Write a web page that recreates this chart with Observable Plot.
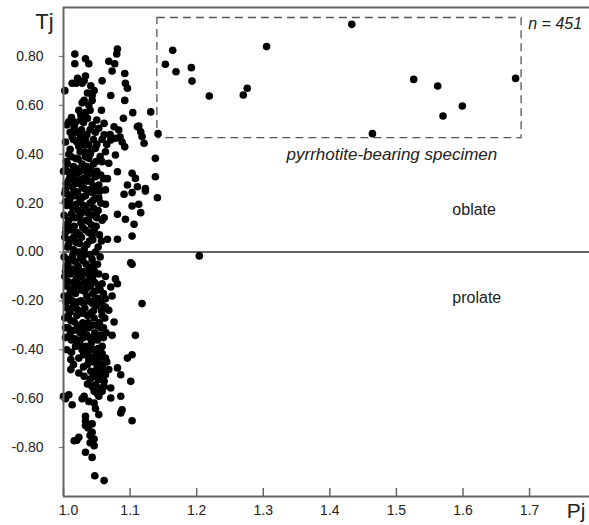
<!DOCTYPE html>
<html>
<head>
<meta charset="utf-8">
<script src="https://cdn.jsdelivr.net/npm/d3@7"></script>
<script src="https://cdn.jsdelivr.net/npm/@observablehq/plot@0.6"></script>
<style>
  html, body { margin: 0; padding: 0; background: #fff; }
  #chart { width: 589px; height: 525px; }
</style>
</head>
<body>
<div id="chart"></div>
<script>
// Pj (x) / Tj (y) values (dense cluster)
const clusterPoints = [
  // Tj 0.56 – 0.83
  [1.017,0.81],[1.017,0.77],[1.033,0.79],[1.038,0.77],[1.081,0.83],[1.080,0.81],[1.068,0.78],[1.077,0.77],
  [1.073,0.74],[1.092,0.73],[1.093,0.69],[1.096,0.67],[1.002,0.66],[1.013,0.69],[1.021,0.71],[1.033,0.72],
  [1.028,0.69],[1.041,0.68],[1.058,0.70],[1.036,0.65],[1.043,0.62],[1.028,0.61],[1.038,0.60],[1.023,0.58],
  [1.033,0.57],[1.071,0.64],[1.092,0.62],[1.057,0.58],[1.104,0.57],[1.026,0.56],[1.024,0.70],[1.031,0.70],
  [1.019,0.69],[1.046,0.66],[1.043,0.64],[1.031,0.62],[1.040,0.58],
  // Tj 0.25 – 0.55
  [1.008,0.533],[1.016,0.512],[1.026,0.54],[1.036,0.547],[1.043,0.519],[1.053,0.506],[1.061,0.526],[1.076,0.512],
  [1.083,0.499],[1.090,0.547],[1.111,0.512],[1.116,0.492],[1.118,0.472],[1.121,0.445],[1.026,0.472],[1.033,0.458],
  [1.023,0.431],[1.038,0.438],[1.041,0.41],[1.033,0.39],[1.061,0.479],[1.071,0.458],[1.078,0.465],[1.063,0.41],
  [1.078,0.397],[1.058,0.369],[1.068,0.363],[1.011,0.39],[1.018,0.383],[1.038,0.383],[1.048,0.424],[1.003,0.335],
  [1.013,0.328],[1.021,0.322],[1.031,0.335],[1.036,0.315],[1.023,0.294],[1.008,0.294],[1.013,0.267],[1.028,0.267],
  [1.041,0.288],[1.048,0.308],[1.053,0.274],[1.081,0.328],[1.103,0.322],[1.108,0.301],[1.096,0.274],[1.111,0.267],
  [1.123,0.26],[1.063,0.254],[1.038,0.254],[1.003,0.254],[1.000,0.33],[1.005,0.33],
  [1.012,0.55],[1.018,0.53],[1.005,0.52],[1.020,0.49],[1.027,0.50],[1.015,0.46],[1.030,0.44],[1.045,0.46],
  [1.025,0.41],[1.050,0.44],[1.055,0.39],[1.045,0.36],[1.028,0.36],[1.015,0.35],[1.040,0.34],[1.050,0.33],
  [1.060,0.30],[1.030,0.30],[1.018,0.28],[1.045,0.27],[1.010,0.31],[1.055,0.25],[1.070,0.48],[1.065,0.44],
  [1.085,0.47],[1.088,0.45],[1.092,0.43],[1.113,0.515],[1.138,0.308],[1.066,0.30],
  [1.004,0.28],[1.014,0.30],[1.025,0.28],[1.035,0.29],[1.044,0.32],[1.056,0.315],[1.020,0.34],[1.035,0.35],
  [1.049,0.37],[1.006,0.36],[1.022,0.38],[1.040,0.40],[1.010,0.42],[1.020,0.45],[1.035,0.48],[1.048,0.49],
  [1.058,0.46],[1.010,0.49],[1.040,0.50],[1.030,0.53],[1.050,0.54],
  [1.003,0.45],[1.013,0.47],[1.024,0.46],[1.008,0.40],[1.032,0.41],[1.004,0.37],[1.026,0.33],[1.016,0.25],
  [1.031,0.26],[1.047,0.25],
  // Tj -0.08 – 0.25
  [1.091,0.236],[1.103,0.243],[1.123,0.249],[1.141,0.222],[1.103,0.188],[1.113,0.195],[1.116,0.161],[1.081,0.154],
  [1.093,0.134],[1.061,0.14],[1.106,0.113],[1.103,0.065],[1.081,0.052],[1.066,0.052],[1.101,-0.044],[1.103,-0.05],
  [1.063,0.195],[1.053,0.222],[1.043,0.243],
  [1.002,0.24],[1.010,0.22],[1.018,0.23],[1.025,0.21],[1.033,0.23],[1.040,0.20],[1.048,0.22],
  [1.005,0.19],[1.014,0.18],[1.022,0.17],[1.030,0.19],[1.037,0.16],[1.045,0.18],[1.052,0.17],
  [1.001,0.15],[1.008,0.13],[1.017,0.14],[1.026,0.12],[1.034,0.13],[1.042,0.11],[1.050,0.14],
  [1.004,0.10],[1.012,0.09],[1.020,0.08],[1.029,0.10],[1.038,0.08],[1.046,0.09],[1.054,0.07],
  [1.002,0.06],[1.010,0.05],[1.019,0.04],[1.027,0.06],[1.035,0.03],[1.044,0.05],[1.052,0.02],
  [1.006,0.02],[1.015,0.01],[1.023,0.00],[1.031,0.01],[1.040,-0.01],[1.048,0.00],
  [1.001,-0.02],[1.009,-0.03],[1.018,-0.04],[1.026,-0.02],[1.034,-0.05],[1.043,-0.03],[1.051,-0.05],
  [1.004,-0.06],[1.013,-0.07],[1.022,-0.06],[1.030,-0.08],[1.039,-0.07],[1.047,-0.08],
  [1.007,0.235],[1.021,0.245],[1.029,0.225],[1.044,0.21],[1.056,0.20],[1.003,0.205],[1.019,0.195],[1.034,0.175],
  [1.049,0.155],[1.058,0.13],[1.012,0.155],[1.024,0.145],[1.038,0.125],[1.006,0.115],[1.016,0.105],[1.033,0.09],
  [1.049,0.105],[1.057,0.045],[1.024,0.035],[1.039,0.045],[1.008,0.035],[1.014,-0.015],[1.029,-0.035],[1.045,-0.055],
  [1.055,-0.02],[1.007,-0.045],[1.021,-0.085],[1.036,-0.09],
  [1.009,0.20],[1.027,0.16],[1.041,0.15],[1.003,0.08],[1.024,0.07],[1.043,0.07],[1.015,0.06],[1.032,-0.01],
  [1.017,-0.08],[1.003,-0.08],
  // Tj -0.37 – -0.08
  [1.063,-0.10],[1.078,-0.11],[1.081,-0.13],[1.071,-0.143],[1.053,-0.136],[1.118,-0.211],[1.108,-0.341],[1.076,-0.286],
  [1.073,-0.341],[1.063,-0.191],[1.068,-0.238],[1.073,-0.18],
  [1.002,-0.10],[1.010,-0.09],[1.019,-0.11],[1.027,-0.10],[1.036,-0.12],[1.044,-0.10],[1.053,-0.09],
  [1.005,-0.14],[1.014,-0.15],[1.023,-0.13],[1.031,-0.16],[1.040,-0.14],[1.048,-0.16],
  [1.001,-0.18],[1.009,-0.19],[1.018,-0.17],[1.026,-0.20],[1.035,-0.18],[1.043,-0.21],[1.052,-0.19],[1.060,-0.17],
  [1.006,-0.23],[1.015,-0.22],[1.023,-0.24],[1.032,-0.23],[1.041,-0.25],[1.049,-0.22],[1.057,-0.24],
  [1.002,-0.27],[1.011,-0.28],[1.020,-0.26],[1.029,-0.29],[1.046,-0.27],[1.054,-0.29],[1.062,-0.27],
  [1.007,-0.31],[1.016,-0.32],[1.025,-0.33],[1.038,-0.31],[1.047,-0.33],[1.056,-0.31],[1.064,-0.33],
  [1.003,-0.35],[1.012,-0.36],[1.021,-0.37],[1.030,-0.35],[1.042,-0.37],[1.051,-0.36],[1.060,-0.35],
  [1.006,-0.12],[1.015,-0.125],[1.031,-0.125],[1.047,-0.125],[1.058,-0.13],[1.010,-0.165],[1.027,-0.155],[1.044,-0.17],
  [1.055,-0.155],[1.004,-0.205],[1.021,-0.205],[1.038,-0.20],[1.057,-0.21],[1.010,-0.245],[1.028,-0.25],[1.045,-0.24],
  [1.063,-0.225],[1.016,-0.285],[1.037,-0.29],[1.058,-0.26],[1.003,-0.31],[1.021,-0.30],[1.031,-0.315],[1.043,-0.30],
  [1.060,-0.31],[1.010,-0.335],[1.035,-0.34],[1.056,-0.34],[1.017,-0.355],[1.047,-0.355],
  [1.040,-0.11],[1.020,-0.14],[1.034,-0.15],[1.013,-0.20],[1.030,-0.21],[1.048,-0.19],[1.019,-0.23],[1.036,-0.26],
  [1.007,-0.26],[1.026,-0.31],[1.050,-0.30],[1.039,-0.35],[1.025,-0.36],
  // Tj -0.69 – -0.37
  [1.018,-0.386],[1.033,-0.386],[1.058,-0.386],[1.011,-0.44],[1.023,-0.434],[1.036,-0.413],[1.038,-0.44],[1.053,-0.44],
  [1.063,-0.434],[1.096,-0.434],[1.103,-0.42],[1.011,-0.481],[1.023,-0.495],[1.031,-0.508],[1.041,-0.488],[1.051,-0.467],
  [1.058,-0.461],[1.068,-0.481],[1.081,-0.474],[1.086,-0.502],[1.101,-0.529],[1.063,-0.502],[1.053,-0.522],[1.061,-0.529],
  [1.048,-0.543],[1.056,-0.556],[1.071,-0.556],[1.046,-0.57],[1.053,-0.59],[1.008,-0.584],[1.013,-0.625],[1.031,-0.59],
  [1.038,-0.611],[1.046,-0.618],[1.071,-0.597],[1.086,-0.59],[1.088,-0.645],[1.086,-0.658],[1.033,-0.672],[1.053,-0.665],
  [1.103,-0.69],
  [1.005,-0.40],[1.012,-0.41],[1.028,-0.40],[1.045,-0.40],[1.050,-0.42],[1.015,-0.46],[1.045,-0.45],[1.030,-0.47],
  [1.060,-0.48],[1.040,-0.52],[1.050,-0.50],[1.065,-0.45],[1.043,-0.55],[1.058,-0.57],[1.000,-0.59],[1.003,-0.60],
  [1.028,-0.60],[1.048,-0.64],
  [1.024,-0.38],[1.041,-0.39],[1.052,-0.395],[1.030,-0.42],[1.058,-0.415],[1.044,-0.43],[1.036,-0.46],[1.050,-0.48],
  [1.045,-0.51],[1.056,-0.50],[1.061,-0.55],[1.036,-0.54],[1.051,-0.58],
  // Tj below -0.69
  [1.033,-0.69],[1.033,-0.71],[1.043,-0.703],[1.043,-0.737],[1.046,-0.765],[1.046,-0.792],[1.016,-0.772],[1.023,-0.758],
  [1.033,-0.819],[1.043,-0.84],[1.047,-0.915],[1.061,-0.935],
  [1.037,-0.72],[1.040,-0.75],[1.020,-0.77],[1.040,-0.78]
];

// isolated specimens (incl. pyrrhotite-bearing group)
const outlierPoints = [
  [1.153,0.768],[1.164,0.825],[1.169,0.737],[1.192,0.754],[1.193,0.699],[1.219,0.638],[1.270,0.642],[1.276,0.670],
  [1.305,0.840],[1.433,0.931],[1.464,0.484],[1.526,0.706],[1.562,0.679],[1.570,0.556],[1.599,0.597],[1.679,0.710],
  [1.142,0.484],[1.131,0.573],[1.138,0.383],[1.204,-0.016]
];

const xTicks = [1.0, 1.1, 1.2, 1.3, 1.4, 1.5, 1.6, 1.7];
const yTicks = [-0.8, -0.6, -0.4, -0.2, 0, 0.2, 0.4, 0.6, 0.8];
const boxPj = [1.141, 1.688];
const boxTj = [0.466, 0.957];

const points = clusterPoints.concat(outlierPoints);
const axisColor = "#666";
const textColor = "#222";

const chart = Plot.plot({
  width: 589,
  height: 525,
  marginLeft: 63,
  marginRight: 0,
  marginTop: 7,
  marginBottom: 29,
  x: {domain: [1.0, 1.79]},
  y: {domain: [-1, 1]},
  style: {fontFamily: "'Liberation Sans', Arial, sans-serif", background: "white", color: textColor},
  marks: [
    Plot.ruleY([0], {stroke: axisColor, strokeWidth: 2}),
    Plot.rect([0], {x1: boxPj[0], x2: boxPj[1], y1: boxTj[0], y2: boxTj[1],
      fill: "none", stroke: "#555", strokeWidth: 1.3, strokeDasharray: "8,5"}),
    Plot.dot(points, {x: d => d[0], y: d => d[1], r: 3.8, fill: "black", stroke: "none"}),
    Plot.ruleX([1.0], {stroke: axisColor, strokeWidth: 2}),
    Plot.ruleY([-1], {stroke: axisColor, strokeWidth: 2}),
    Plot.ruleY([1], {stroke: axisColor, strokeWidth: 2}),
    Plot.axisY(yTicks, {tickSize: 4, tickPadding: 16, tickFormat: d => d.toFixed(2),
      fontSize: 14, label: null, stroke: axisColor}),
    Plot.axisX([], {label: null, tickSize: 0}),
    Plot.ruleX(xTicks, {x: d => d, y1: -1, y2: -0.967, stroke: axisColor, strokeWidth: 1.5}),
    Plot.text(xTicks.slice(1), {x: d => d, y: -1, dy: 14, text: d => d.toFixed(1), fontSize: 14, fill: textColor}),
    Plot.text(xTicks.slice(0, 1), {x: d => d, y: -1, dy: 14, dx: 5, text: d => d.toFixed(1), fontSize: 14, fill: textColor}),
    Plot.text(["Tj"], {x: 1.0, y: 0.941, dx: -19, text: d => d, fontSize: 22, fill: textColor}),
    Plot.text(["Pj"], {x: 1.77, y: -1, dy: 15, text: d => d, fontSize: 21, fill: textColor}),
    Plot.text(["n = 451"], {x: 1.698, y: 0.933, text: d => d, fontSize: 16, fontStyle: "italic", textAnchor: "start", fill: textColor}),
    Plot.text(["pyrrhotite-bearing specimen"], {x: 1.335, y: 0.40, text: d => d, fontSize: 17, fontStyle: "italic", textAnchor: "start", fill: textColor}),
    Plot.text(["oblate"], {x: 1.584, y: 0.172, text: d => d, fontSize: 16, textAnchor: "start", fill: textColor}),
    Plot.text(["prolate"], {x: 1.584, y: -0.188, text: d => d, fontSize: 16, textAnchor: "start", fill: textColor})
  ]
});
document.getElementById("chart").appendChild(chart);
</script>
</body>
</html>
